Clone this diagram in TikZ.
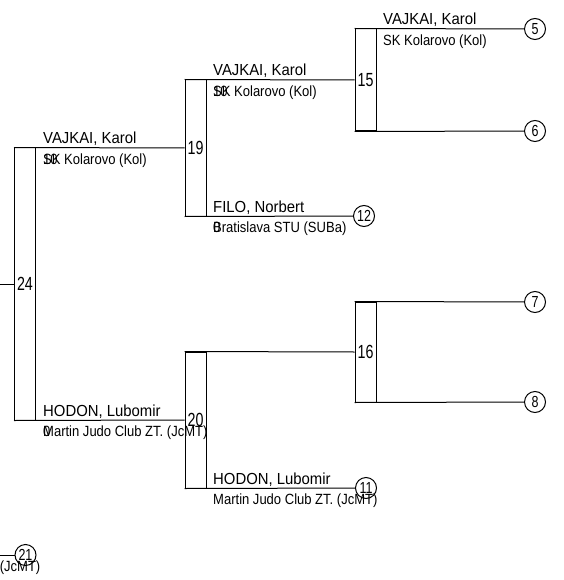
\documentclass[tikz,border=0pt]{standalone}
\usepackage{fontspec}
\setmainfont{Liberation Sans}
\newfontfamily\namefnt[FakeStretch=0.93]{Liberation Sans}
\newfontfamily\clubfnt[FakeStretch=0.88]{Liberation Sans}
\newfontfamily\boxfnt[FakeStretch=0.75]{Liberation Sans}
\newfontfamily\circfnt[FakeStretch=0.78]{Liberation Sans}
\tikzset{
  x=1pt, y=-1pt,
  wire/.style={draw=black, line width=1pt},
  matchbox/.style={draw=black, line width=1pt, rectangle, inner sep=0pt, minimum width=21pt,
    font=\boxfnt\fontsize{19}{20}\selectfont},
  seed/.style={draw=black, line width=1pt, circle, inner sep=0pt, minimum size=21pt,
    font=\circfnt\fontsize{16}{17}\selectfont},
  pname/.style={anchor=base west, inner sep=0pt, font=\namefnt\fontsize{16}{17}\selectfont},
  pclub/.style={anchor=base west, inner sep=0pt, font=\clubfnt\fontsize{14.8}{16}\selectfont},
}
\begin{document}
\begin{tikzpicture}
\useasboundingbox (0,0) rectangle (563,580);
% match boxes
\node[matchbox, minimum height=272pt] (m24) at (25,284) {24};
\node[matchbox, minimum height=136pt] (m19) at (195.5,148) {19};
\node[matchbox, minimum height=136pt] (m20) at (195.5,420) {20};
\node[matchbox, minimum height=102pt] (m15) at (365.5,80) {15};
\node[matchbox, minimum height=100pt] (m16) at (365.5,352) {16};
% seed circles
\node[seed] (c5) at (535,29) {5};
\node[seed] (c6) at (535,131) {6};
\node[seed] (c7) at (535,302) {7};
\node[seed] (c8) at (535,402) {8};
\node[seed] (c12) at (364,216) {12};
\node[seed] (c11) at (366,488) {11};
\node[seed] (c21) at (25.5,555) {21};
\coordinate (in24) at (0,284);
\coordinate (in21) at (0,555);
% connectors
\draw[wire] (in24) -- (m24.west);
\draw[wire] (m24.north west) -- (m19.west);
\draw[wire] (m24.south west) -- (m20.west);
\draw[wire] (m19.north west) -- (m15.west);
\draw[wire] (m19.south west) -- (c12);
\draw[wire] (m20.north west) -- (m16.west);
\draw[wire] (m20.south west) -- (c11);
\draw[wire] (m15.north west) -- (c5);
\draw[wire] (m15.south west) -- (c6);
\draw[wire] (m16.north west) -- (c7);
\draw[wire] (m16.south west) -- (c8);
\draw[wire] (in21) -- (c21);
% texts
\node[pname] (n24a) at (43,144) {VAJKAI, Karol};
\node[pclub] (k24a) at (43,164.5) {SK Kolarovo (Kol)};
\node[pclub] (s24a) at (43,164.5) {10};
\node[pname] (n24b) at (43,416) {HODON, Lubomir};
\node[pclub] (k24b) at (43,436.5) {Martin Judo Club ZT. (JcMT)};
\node[pclub] (s24b) at (43,436.5) {0};
\node[pname] (n19a) at (213,76) {VAJKAI, Karol};
\node[pclub] (k19a) at (213,96.5) {SK Kolarovo (Kol)};
\node[pclub] (s19a) at (213,96.5) {10};
\node[pname] (n19b) at (213,212) {FILO, Norbert};
\node[pclub] (k19b) at (213,232.5) {Bratislava STU (SUBa)};
\node[pclub] (s19b) at (213,232.5) {0};
\node[pname] (n20b) at (213,484) {HODON, Lubomir};
\node[pclub] (k20b) at (213,504.5) {Martin Judo Club ZT. (JcMT)};
\node[pname] (n15a) at (383,25) {VAJKAI, Karol};
\node[pclub] (k15a) at (383,45.5) {SK Kolarovo (Kol)};
\node[pclub, anchor=base east] (k21) at (40.5,571) {(JcMT)};
\end{tikzpicture}
\end{document}
